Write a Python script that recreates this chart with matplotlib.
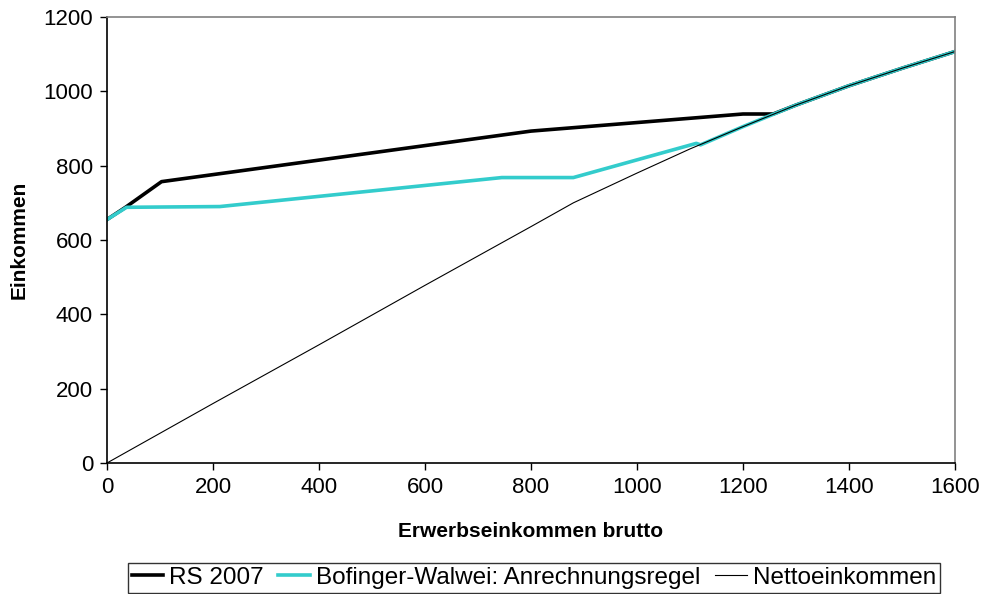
import matplotlib
matplotlib.use("Agg")
import matplotlib.pyplot as plt
import matplotlib as mpl

mpl.rcParams['font.family'] = ['Liberation Sans', 'DejaVu Sans']
mpl.rcParams['font.size'] = 16

# gross earnings vs. resulting income
rs_x = [0, 35, 103, 800, 1200, 1257, 1300, 1400, 1500, 1600]
rs_y = [655, 688, 757, 893, 939, 939, 963, 1015, 1062, 1107]

bw_x = [0, 37, 213, 745, 880, 1112, 1120, 1200, 1300, 1400, 1500, 1600]
bw_y = [655, 688, 690, 768, 768, 860, 856, 905, 963, 1015, 1062, 1107]

net_x = [0, 100, 200, 300, 400, 500, 600, 700, 800, 880,
         1000, 1100, 1200, 1300, 1400, 1500, 1600]
net_y = [0, 80, 160, 239, 318, 398, 478, 557, 636, 700,
         780, 845, 905, 963, 1015, 1062, 1107]

fig = plt.figure(figsize=(9.83, 5.94), dpi=100)
ax = fig.add_axes([0.1088, 0.2205, 0.8627, 0.7509])

ax.plot(rs_x, rs_y, color='black', lw=2.6, label='RS 2007')
ax.plot(bw_x, bw_y, color='#33CCCC', lw=2.6, label='Bofinger-Walwei: Anrechnungsregel')
ax.plot(net_x, net_y, color='black', lw=0.8, label='Nettoeinkommen')

ax.set_xlim(0, 1600)
ax.set_ylim(0, 1200)
ax.set_xticks(range(0, 1601, 200))
ax.set_yticks(range(0, 1201, 200))
ax.tick_params(direction='out', length=5, width=1, pad=5, labelsize=16)

for side in ('top', 'right'):
    ax.spines[side].set_color('#808080')
    ax.spines[side].set_linewidth(1.2)
for side in ('left', 'bottom'):
    ax.spines[side].set_color('black')
    ax.spines[side].set_linewidth(1.2)

ax.set_xlabel('Erwerbseinkommen brutto', fontsize=15, fontweight='bold', labelpad=17)
ax.set_ylabel('Einkommen', fontsize=15, fontweight='bold', labelpad=11)

leg = fig.legend(loc='center', bbox_to_anchor=(0.543, 0.027), ncol=3,
                 frameon=True, fancybox=False, fontsize=17.5,
                 handlelength=1.3, handletextpad=0.25, columnspacing=0.6,
                 borderpad=0.15, borderaxespad=0)
leg.get_frame().set_edgecolor('black')
leg.get_frame().set_linewidth(1.0)

fig.savefig('out.png', dpi=100)
